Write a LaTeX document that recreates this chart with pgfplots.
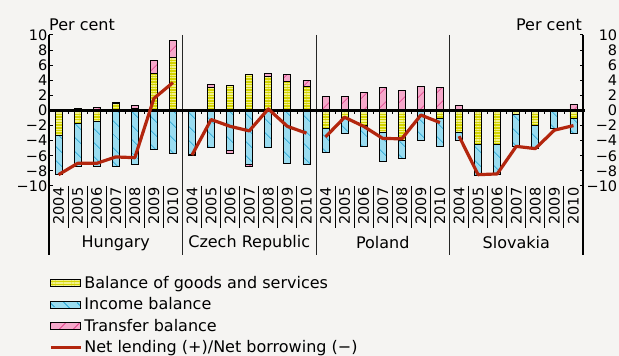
\documentclass[border=0pt]{standalone}
\usepackage{fontspec}
\setmainfont{DejaVu Sans}
\usepackage{pgfplots}
\pgfplotsset{compat=1.18}
\usepackage{pgfplotstable}
\usetikzlibrary{patterns.meta}

\definecolor{bg}{HTML}{F5F4F2}
\definecolor{goodsbase}{HTML}{D4D400}
\definecolor{goodsline}{HTML}{F2F28C}
\definecolor{incbase}{HTML}{9ADCF0}
\definecolor{incline}{HTML}{1AA0D2}
\definecolor{trbase}{HTML}{F5A8CA}
\definecolor{trline}{HTML}{E03C88}
\definecolor{netred}{HTML}{B3260E}

\pgfplotstableread{
x goods income transfer net
0  -3.3  -5.2   0     -8.5
1  -1.7  -5.7   0.25  -7.0
2  -1.4  -6.0   0.35  -7.0
3   0.95 -7.4   0.15  -6.15
4   0.3  -7.1   0.35  -6.25
5   4.9  -5.15  1.7    1.6
6   7.0  -5.65  2.3    3.7
7   0    -5.75 -0.25  -5.9
8   3.1  -4.9   0.4   -1.2
9   3.35 -5.35 -0.3   -2.1
10  4.75 -7.2  -0.2   -2.7
11  4.5  -4.9   0.35   0.2
12  3.8  -7.0   1.0   -2.1
13  3.15 -7.1   0.8   -3.0
14 -2.35 -3.2   1.85  -3.5
15 -0.9  -2.1   1.85  -0.9
16 -1.95 -2.8   2.4   -2.1
17 -2.9  -3.9   3.0   -3.7
18 -4.0  -2.4   2.6   -3.75
19  0    -3.9   3.15  -0.6
20 -1.0  -3.75  3.0   -1.6
21 -2.9  -1.05  0.65  -3.4
22 -4.5  -4.15  0     -8.5
23 -4.5  -4.0   0     -8.4
24 -0.55 -4.2   0     -4.75
25 -2.0  -3.0   0     -5.05
26 -0.1  -2.25  0     -2.6
27 -1.0  -2.0   0.85  -2.0
}\datatable

\pgfplotsset{
  base/.style={scale only axis, width=534pt, height=151pt,
    at={(49pt,170pt)}, anchor=south west,
    xmin=-0.5, xmax=27.5, ymin=-10, ymax=10,
    axis line style={draw=none}, clip=false,
    xtick=\empty, ytick=\empty},
  goodsst/.style={draw=black, line width=0.8pt, fill=goodsbase,
    postaction={pattern={Lines[angle=0,distance=2.7pt,line width=1.2pt]}, pattern color=goodsline}},
  incst/.style={draw=black, line width=0.8pt, fill=incbase,
    postaction={pattern={Lines[angle=-45,distance=10.5pt,line width=0.9pt]}, pattern color=incline}},
  trst/.style={draw=black, line width=0.8pt, fill=trbase,
    postaction={pattern={Lines[angle=45,distance=10.5pt,line width=0.9pt]}, pattern color=trline}},
  netst/.style={draw=netred, line width=3.2pt, line join=round, mark=none},
  barlegend/.style={legend image code/.code={\draw[##1] (0pt,-3.5pt) rectangle (30pt,3.5pt);}},
  linelegend/.style={legend image code/.code={\draw[##1] (0pt,0pt) -- (30pt,0pt);}},
}

\begin{document}
\begin{tikzpicture}
\useasboundingbox (0,0) rectangle (619pt,356pt);
\fill[bg] (0,0) rectangle (619pt,356pt);

% positive parts, left tick labels, years
\begin{axis}[base, ybar stacked, bar width=7pt,
  ytick={-10,-8,...,10},
  yticklabels={−10,−8,−6,−4,−2,0,2,4,6,8,10},
  ytick pos=both, yticklabel pos=left, tick align=inside,
  major tick length=3.5pt,
  ytick style={line width=1pt, black},
  yticklabel style={font=\fontsize{14.5}{14.5}\selectfont, inner xsep=1.5pt},
  xtick={0,...,27},
  xticklabels={2004,2005,2006,2007,2008,2009,2010,2004,2005,2006,2007,2008,2009,2010,2004,2005,2006,2007,2008,2009,2010,2004,2005,2006,2007,2008,2009,2010},
  xtick style={draw=none},
  xticklabel style={rotate=90, anchor=east, inner sep=1.5pt, font=\fontsize{14.5}{14.5}\selectfont},
]
\addplot[goodsst] table[x=x, y expr={max(\thisrow{goods},0)}] {\datatable};
\addplot[incst] table[x=x, y expr={max(\thisrow{income},0)}] {\datatable};
\addplot[trst] table[x=x, y expr={max(\thisrow{transfer},0)}] {\datatable};
\end{axis}

% negative parts, right tick labels
\begin{axis}[base, ybar stacked, bar width=7pt,
  ytick={-10,-8,...,10},
  yticklabels={−10,−8,−6,−4,−2,0,2,4,6,8,10},
  yticklabel pos=right, ytick style={draw=none},
  yticklabel style={font=\fontsize{14.5}{14.5}\selectfont, anchor=west, text width=32pt, align=right, inner xsep=2pt},
]
\addplot[goodsst] table[x=x, y expr={min(\thisrow{goods},0)}] {\datatable};
\addplot[incst] table[x=x, y expr={min(\thisrow{income},0)}] {\datatable};
\addplot[trst] table[x=x, y expr={min(\thisrow{transfer},0)}] {\datatable};
\end{axis}

% net lending line, frame, legend
\begin{axis}[base,
  legend cell align=left,
  legend style={at={(0,-0.585)}, anchor=north west, draw=none, fill=none,
    inner sep=0pt, row sep=3.6pt, font=\fontsize{16}{18}\selectfont},
]
\addlegendimage{goodsst, barlegend}
\addlegendentry{Balance of goods and services}
\addlegendimage{incst, barlegend}
\addlegendentry{Income balance}
\addlegendimage{trst, barlegend}
\addlegendentry{Transfer balance}

% frame lines
\draw[line width=1.3pt] (axis cs:-0.5,10) -- ([yshift=-69pt]axis cs:-0.5,-10);
\draw[line width=1.3pt] (axis cs:27.5,10) -- ([yshift=-69pt]axis cs:27.5,-10);
\pgfplotsinvokeforeach{6.5,13.5,20.5}{
  \draw[line width=1pt, black!85] (axis cs:#1,10) -- ([yshift=-69pt]axis cs:#1,-10);
}
\pgfplotsinvokeforeach{0,1,2,3,4,5,7,8,9,10,11,12,14,15,16,17,18,19,21,22,23,24,25,26}{
  \draw[line width=0.9pt] (axis cs:#1.5,-10) -- ([yshift=-42pt]axis cs:#1.5,-10);
}
\pgfplotsinvokeforeach{0,...,26}{
  \draw[line width=0.8pt] (axis cs:#1.5,0) -- ([yshift=-4pt]axis cs:#1.5,0);
}
\draw[line width=2.5pt] (axis cs:-0.5,0) -- (axis cs:27.6,0);

\addplot[netst, linelegend] table[x=x, y=net, restrict x to domain=0:6] {\datatable};
\addlegendentry{Net lending (+)/Net borrowing (−)}
\addplot[netst, forget plot] table[x=x, y=net, restrict x to domain=7:13] {\datatable};
\addplot[netst, forget plot] table[x=x, y=net, restrict x to domain=14:20] {\datatable};
\addplot[netst, forget plot] table[x=x, y=net, restrict x to domain=21:27] {\datatable};

% category labels
\node[font=\fontsize{16}{18}\selectfont] at ([yshift=-57pt]axis cs:3,-10) {Hungary};
\node[font=\fontsize{16}{18}\selectfont] at ([yshift=-57pt]axis cs:10,-10) {Czech Republic};
\node[font=\fontsize{16}{18}\selectfont] at ([yshift=-57pt]axis cs:17,-10) {Poland};
\node[font=\fontsize{16}{18}\selectfont] at ([yshift=-57pt]axis cs:24,-10) {Slovakia};

% unit labels
\node[anchor=base west, inner sep=0pt, font=\fontsize{16}{18}\selectfont] at ([yshift=4.5pt]rel axis cs:0,1) {Per cent};
\node[anchor=base east, inner sep=0pt, font=\fontsize{16}{18}\selectfont] at ([xshift=-1pt,yshift=4.5pt]rel axis cs:1,1) {Per cent};
\end{axis}
\end{tikzpicture}
\end{document}
